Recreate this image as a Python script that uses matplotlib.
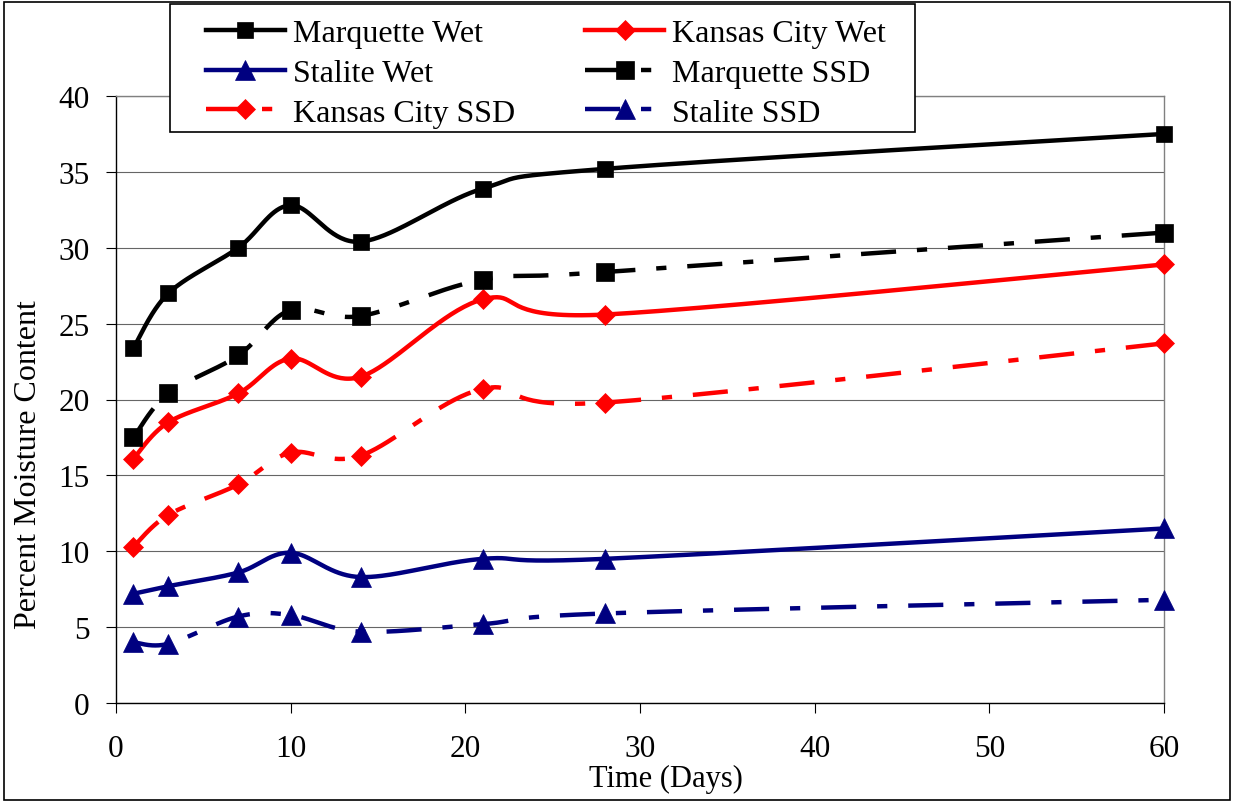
import numpy as np
import matplotlib.pyplot as plt
from matplotlib.lines import Line2D
from matplotlib.patches import Rectangle

plt.rcParams['font.family'] = ['Liberation Serif', 'DejaVu Serif']

days = [1, 3, 7, 10, 14, 21, 28, 60]
marquette_wet = [23.4, 27.0, 30.0, 32.8, 30.4, 33.9, 35.2, 37.5]
kansas_wet = [16.1, 18.5, 20.4, 22.7, 21.5, 26.6, 25.6, 28.9]
stalite_wet = [7.2, 7.7, 8.6, 9.9, 8.3, 9.5, 9.5, 11.5]
marquette_ssd = [17.5, 20.4, 22.9, 25.9, 25.5, 27.9, 28.4, 31.0]
kansas_ssd = [10.3, 12.4, 14.4, 16.5, 16.3, 20.7, 19.8, 23.7]
stalite_ssd = [4.0, 3.9, 5.7, 5.8, 4.7, 5.2, 5.9, 6.8]

W, H = 1233, 803


def smooth(x, y, steps=40):
    # Excel-style smoothed line (Catmull-Rom Bezier) drawn in screen-like units
    sx, sy = 17.5, 15.2
    pts = np.column_stack([np.asarray(x, float) * sx, np.asarray(y, float) * sy])
    n = len(pts)
    out = [pts[0]]
    t = np.linspace(0, 1, steps + 1)[1:, None]
    for i in range(n - 1):
        p0 = pts[max(i - 1, 0)]
        p1 = pts[i]
        p2 = pts[i + 1]
        p3 = pts[min(i + 2, n - 1)]
        c1 = p1 + (p2 - p0) / 6
        c2 = p2 - (p3 - p1) / 6
        seg = (1 - t) ** 3 * p1 + 3 * (1 - t) ** 2 * t * c1 + 3 * (1 - t) * t ** 2 * c2 + t ** 3 * p2
        out.extend(seg)
    out = np.array(out)
    return out[:, 0] / sx, out[:, 1] / sy


lw = 3.2
dash = (0, (7.9, 4.7, 2.3, 4.7))
black, red, navy = '#000000', '#FF0000', '#000080'

series = [
    ('Marquette Wet', marquette_wet, black, '-', 's', 11),
    ('Stalite Wet', stalite_wet, navy, '-', '^', 14.5),
    ('Kansas City SSD', kansas_ssd, red, dash, 'D', 10.5),
    ('Kansas City Wet', kansas_wet, red, '-', 'D', 10.5),
    ('Marquette SSD', marquette_ssd, black, dash, 's', 13.5),
    ('Stalite SSD', stalite_ssd, navy, dash, '^', 14.5),
]

fig = plt.figure(figsize=(W / 100, H / 100), dpi=100)
ax = fig.add_axes([116 / W, (H - 704) / H, (1164 - 116) / W, (704 - 97) / H])

handles = []
for label, vals, c, ls, m, ms in series:
    xs, ys = smooth(days, vals)
    ax.plot(xs, ys, color=c, lw=lw, ls=ls, dash_capstyle='butt', zorder=3)
    ax.plot(days, vals, ls='none', marker=m, ms=ms, color=c, mec=c, mew=0.5,
            clip_on=False, zorder=4)
    handles.append(Line2D([], [], color=c, lw=lw, ls=ls, marker=m, ms=ms, mec=c, mew=0.5,
                          dash_capstyle='butt'))

ax.set_xlim(0, 60)
ax.set_ylim(0, 40)
ax.set_xticks(np.arange(0, 61, 10))
ax.set_yticks(np.arange(0, 41, 5))
ax.yaxis.grid(True, color='#666666', lw=0.8)
ax.set_axisbelow(True)
for s in ['top', 'right']:
    ax.spines[s].set_color('#808080')
    ax.spines[s].set_linewidth(1.0)
for s in ['left', 'bottom']:
    ax.spines[s].set_color('black')
    ax.spines[s].set_linewidth(1.0)
ax.tick_params(direction='out', length=7, width=0.8, labelsize=22.5, colors='black')
ax.tick_params(axis='y', pad=12)
ax.tick_params(axis='x', pad=15)

fig.text(29 / W, 1 - 465 / H, 'Percent Moisture Content', rotation=90,
         ha='center', va='center', fontsize=23)
fig.text(666 / W, 1 - 779 / H, 'Time (Days)', ha='center', va='center', fontsize=22)

# legend box
fig.patches.append(Rectangle((170 / W, 1 - 133 / H), (915 - 170) / W, (133 - 5) / H,
                             transform=fig.transFigure, facecolor='white',
                             edgecolor='black', lw=1.2, zorder=4))
fig.legend(handles=handles, labels=[s[0] for s in series], ncol=2, frameon=False,
           loc='upper left', bbox_to_anchor=(206 / W, 1 - 20 / H), borderpad=0,
           borderaxespad=0, fontsize=23, handlelength=2.47, handletextpad=0.25,
           columnspacing=2.2, labelspacing=0.32, numpoints=1)

# outer frame
fig.patches.append(Rectangle((4 / W, 1 - 801 / H), (1230 - 4) / W, (801 - 3) / H,
                             transform=fig.transFigure, fill=False,
                             edgecolor='black', lw=1.2, zorder=10))

fig.savefig('out.png', dpi=100)
